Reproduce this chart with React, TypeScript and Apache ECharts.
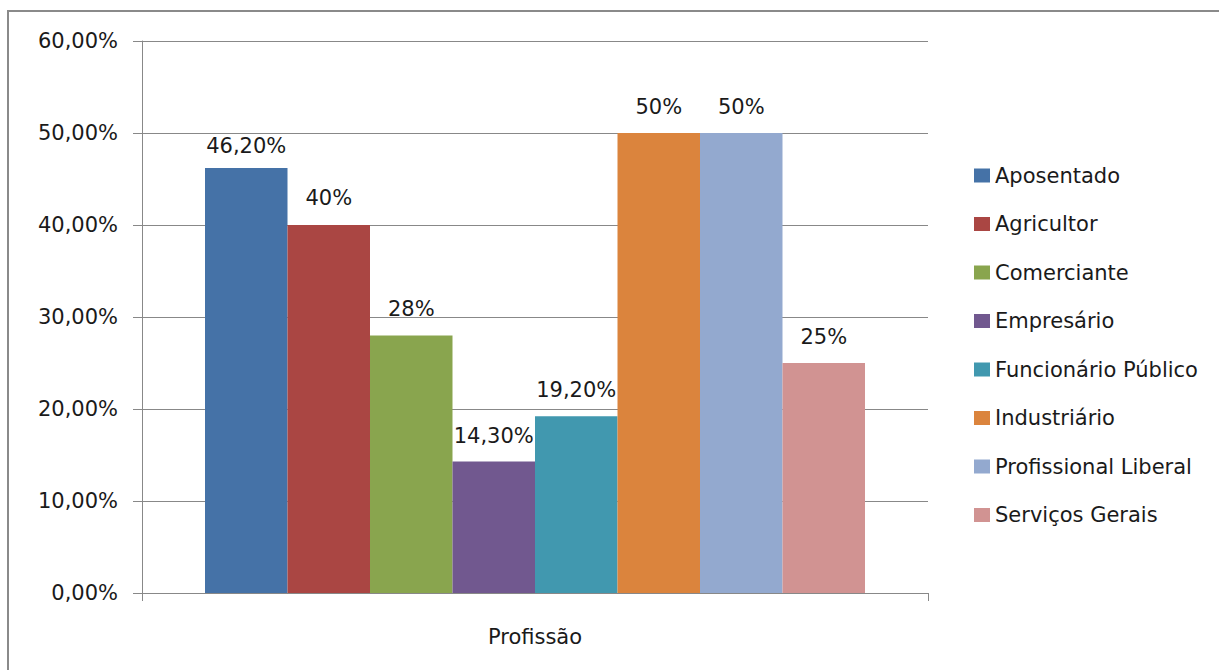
import React, { useEffect, useRef } from "react";
import * as echarts from "echarts";

const categories = ["Profissão"];
const seriesNames = [
  "Aposentado",
  "Agricultor",
  "Comerciante",
  "Empresário",
  "Funcionário Público",
  "Industriário",
  "Profissional Liberal",
  "Serviços Gerais",
];
const seriesValues = [46.2, 40, 28, 14.3, 19.2, 50, 50, 25];
const valueLabels = ["46,20%", "40%", "28%", "14,30%", "19,20%", "50%", "50%", "25%"];
const seriesColors = ["#4572A7", "#AA4643", "#89A54E", "#71588F", "#4198AF", "#DB843D", "#93A9CF", "#D19392"];
const labelDistances = [11.5, 16.5, 16, 14.5, 15.5, 16, 16, 16];

const FONT = "DejaVu Sans";

export default function App() {
  const ref = useRef<HTMLDivElement>(null);
  useEffect(() => {
    if (!ref.current) return;
    const chart = echarts.init(ref.current, undefined, { renderer: "svg" });
    chart.setOption({
      animation: false,
      backgroundColor: "#ffffff",
      textStyle: { fontFamily: FONT },
      grid: { left: 142, top: 41, width: 786, height: 552 },
      legend: {
        orient: "vertical",
        left: 969,
        top: 160,
        itemWidth: 16,
        itemHeight: 14,
        itemGap: 27.5,
        icon: "rect",
        textStyle: { fontFamily: FONT, fontSize: 21, color: "#1a1a1a", lineHeight: 20 },
        data: seriesNames,
      },
      xAxis: {
        type: "category",
        data: categories,
        axisLine: { lineStyle: { color: "#888888", width: 1 } },
        axisTick: { show: true, length: 8, lineStyle: { color: "#888888" } },
        axisLabel: { fontFamily: FONT, fontSize: 21, color: "#1a1a1a", margin: 33 },
      },
      yAxis: {
        type: "value",
        min: 0,
        max: 60,
        interval: 10,
        axisLine: { show: true, lineStyle: { color: "#888888", width: 1 } },
        axisTick: { show: true, length: 9, lineStyle: { color: "#888888" } },
        splitLine: { lineStyle: { color: "#888888", width: 1 } },
        axisLabel: {
          fontFamily: FONT,
          fontSize: 21,
          color: "#1a1a1a",
          margin: 24,
          formatter: (v: number) => v.toFixed(2).replace(".", ",") + "%",
        },
      },
      series: seriesNames.map((name, i) => ({
        name,
        type: "bar",
        data: [seriesValues[i]],
        barWidth: 82.5,
        barGap: "0%",
        itemStyle: { color: seriesColors[i] },
        label: {
          show: true,
          position: "top",
          distance: labelDistances[i],
          fontFamily: FONT,
          fontSize: 21,
          color: "#1a1a1a",
          formatter: () => valueLabels[i],
        },
      })),
      graphic: [
        {
          type: "rect",
          shape: { x: 8, y: 11, width: 1230, height: 680 },
          style: { fill: "none", stroke: "#8a8a8a", lineWidth: 2 },
          silent: true,
        },
      ],
    });
    return () => chart.dispose();
  }, []);
  return (
    <div
      ref={ref}
      style={{ position: "fixed", left: 0, top: 0, width: 1219, height: 670 }}
    />
  );
}
